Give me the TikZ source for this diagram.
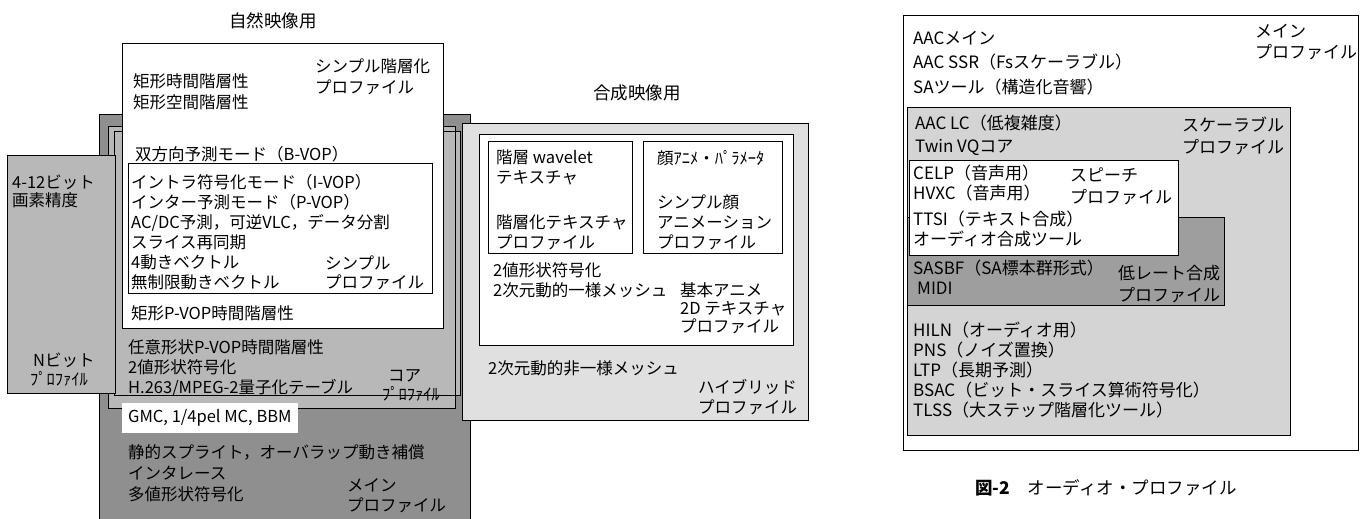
\documentclass[tikz,border=0pt]{standalone}
\usepackage{fontspec}
\newfontfamily\jp{Noto Sans CJK JP}
\definecolor{mainGray}{gray}{0.56}
\definecolor{coreGray}{gray}{0.72}
\definecolor{hybGray}{gray}{0.88}
\definecolor{scalGray}{gray}{0.83}
\definecolor{lowGray}{gray}{0.62}
\begin{document}
\begin{tikzpicture}[x=1pt,y=-1pt,
    lbl/.style={anchor=base west,inner sep=0pt,font=\jp\fontsize{16.5}{19}\selectfont},
    albl/.style={lbl,font=\jp\fontsize{17}{19}\selectfont},
    title/.style={inner sep=0pt,font=\jp\fontsize{17.5}{20}\selectfont},
    frame/.style={draw,line width=0.9pt}]
  \useasboundingbox (0,0) rectangle (1368,519);
  % natural video
  \node[title] (natTitle) at (273,21) {自然映像用};
  \filldraw[frame,fill=mainGray] (99,114) rectangle (470,530);
  \filldraw[frame,fill=hybGray] (462,123) rectangle (808,420);
  \filldraw[frame,fill=coreGray] (114,131) rectangle (460,395);
  \filldraw[frame,fill=coreGray] (108,126) rectangle (455,408);
  \draw[frame,line width=0.6pt] (114,131) rectangle (460,395);
  \filldraw[frame,fill=coreGray] (7,155) rectangle (115,393);
  \filldraw[frame,fill=white] (122,43) rectangle (443,328);
  \filldraw[frame,fill=white] (128,163) rectangle (432,293);
  \node[lbl] (scal0) at (133,88) {矩形時間階層性};
  \node[lbl] (scal1) at (133,108) {矩形空間階層性};
  \node[lbl] (scalName0) at (315,73) {シンプル階層化};
  \node[lbl] (scalName1) at (315,93) {プロファイル};
  \node[lbl] (bvop) at (135,160) {双方向予測モード（B-VOP）};
  \foreach \t [count=\i from 0] in {{イントラ符号化モード（I-VOP）},{インター予測モード（P-VOP）},
      {AC/DC予測，可逆VLC，データ分割},{スライス再同期},{4動きベクトル},{無制限動きベクトル}}
    \node[lbl] (simp\i) at (131,188+20*\i) {\t};
  \node[lbl] (simpName0) at (325,269) {シンプル};
  \node[lbl] (simpName1) at (325,288) {プロファイル};
  \node[lbl] (pvop) at (131,319) {矩形P-VOP時間階層性};
  \foreach \t [count=\i from 0] in {{任意形状P-VOP時間階層性},{2値形状符号化},{H.263/MPEG-2量子化テーブル}}
    \node[lbl] (core\i) at (128,353+20*\i) {\t};
  \node[lbl] (coreName0) at (388,381) {コア};
  \node[lbl] (coreName1) at (382,400) {ﾌﾟﾛﾌｧｲﾙ};
  \node[lbl,anchor=west,fill=white,inner xsep=6pt,inner ysep=7pt] (gmc) at (122,418) {GMC, 1/4pel MC, BBM};
  \foreach \t [count=\i from 0] in {{静的スプライト，オーバラップ動き補償},{インタレース},{多値形状符号化}}
    \node[lbl] (main\i) at (128,458+21*\i) {\t};
  \node[lbl] (mainName0) at (347,491) {メイン};
  \node[lbl] (mainName1) at (347,511) {プロファイル};
  \node[lbl] (nbit0) at (12,188) {4-12ビット};
  \node[lbl] (nbit1) at (12,206) {画素精度};
  \node[lbl] (nbitName0) at (33,366) {Nビット};
  \node[lbl] (nbitName1) at (30,385) {ﾌﾟﾛﾌｧｲﾙ};
  % synthetic video
  \node[title] (synTitle) at (637,93) {合成映像用};
  \filldraw[frame,fill=white] (479,134) rectangle (793,345);
  \filldraw[frame,fill=white] (488,141) rectangle (632,253);
  \filldraw[frame,fill=white] (643,141) rectangle (782,253);
  \node[lbl] (tex0) at (496,163) {階層 wavelet};
  \node[lbl] (tex1) at (496,183) {テキスチャ};
  \node[lbl] (texName0) at (496,228) {階層化テキスチャ};
  \node[lbl] (texName1) at (496,248) {プロファイル};
  \node[lbl] (face0) at (657,164) {顔ｱﾆﾒ・ﾊﾟﾗﾒｰﾀ};
  \node[lbl] (faceName0) at (657,208) {シンプル顔};
  \node[lbl] (faceName1) at (657,228) {アニメーション};
  \node[lbl] (faceName2) at (657,248) {プロファイル};
  \node[lbl] (anim0) at (493,276) {2値形状符号化};
  \node[lbl] (anim1) at (493,296) {2次元動的一様メッシュ};
  \node[lbl] (animName0) at (680,296) {基本アニメ};
  \node[lbl] (animName1) at (680,314) {2D テキスチャ};
  \node[lbl] (animName2) at (680,332) {プロファイル};
  \node[lbl] (hyb0) at (488,374) {2次元動的非一様メッシュ};
  \node[lbl] (hybName0) at (698,393) {ハイブリッド};
  \node[lbl] (hybName1) at (698,413) {プロファイル};
  % audio
  \filldraw[frame,fill=white] (903,15) rectangle (1358,450);
  \filldraw[frame,fill=scalGray] (907,107) rectangle (1290,435);
  \filldraw[frame,fill=lowGray] (907,217) rectangle (1224,305);
  \filldraw[frame,fill=white] (909,160) rectangle (1178,255);
  \foreach \t [count=\i from 0] in {{AACメイン},{AAC SSR（Fsスケーラブル）},{SAツール（構造化音響）}}
    \node[albl] (aMain\i) at (913,45+24*\i) {\t};
  \node[albl] (aMainName0) at (1255,38) {メイン};
  \node[albl] (aMainName1) at (1255,59) {プロファイル};
  \node[albl] (aScal0) at (915,129) {AAC LC（低複雑度）};
  \node[albl] (aScal1) at (915,152) {Twin VQコア};
  \node[albl] (aScalName0) at (1182,131) {スケーラブル};
  \node[albl] (aScalName1) at (1182,153) {プロファイル};
  \foreach \t [count=\i from 0] in {{CELP（音声用）},{HVXC（音声用）}}
    \node[albl] (speech\i) at (913,179+20*\i) {\t};
  \node[albl] (speechName0) at (1070,181) {スピーチ};
  \node[albl] (speechName1) at (1070,203) {プロファイル};
  \node[albl] (synth0) at (913,225) {TTSI（テキスト合成）};
  \node[albl] (synth1) at (913,245) {オーディオ合成ツール};
  \node[albl] (low0) at (913,274) {SASBF（SA標本群形式）};
  \node[albl] (low1) at (917,294) {MIDI};
  \node[albl] (lowName0) at (1118,279) {低レート合成};
  \node[albl] (lowName1) at (1118,301) {プロファイル};
  \foreach \t [count=\i from 0] in {{HILN（オーディオ用）},{PNS（ノイズ置換）},{LTP（長期予測）},
      {BSAC（ビット・スライス算術符号化）},{TLSS（大ステップ階層化ツール）}}
    \node[albl] (tool\i) at (913,336+20*\i) {\t};
  \node[lbl,anchor=base,font=\jp\fontsize{17.5}{20}\selectfont] (caption) at (1106,494) {{\bfseries 図-2}\quad オーディオ・プロファイル};
\end{tikzpicture}
\end{document}
